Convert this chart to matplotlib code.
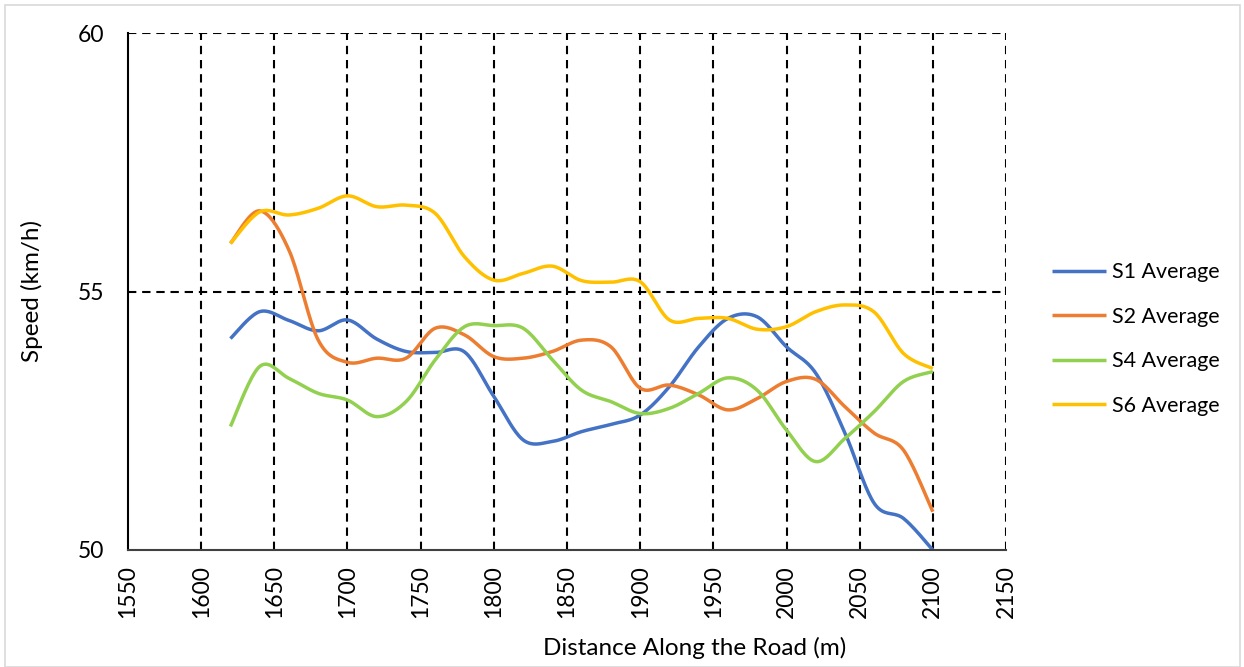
import numpy as np
import matplotlib
matplotlib.use("Agg")
import matplotlib.pyplot as plt
from matplotlib.patches import Rectangle

# data (20 m spacing)
distance = [1620, 1640, 1660, 1680, 1700, 1720, 1740, 1760, 1780, 1800, 1820, 1840, 1860,
            1880, 1900, 1920, 1940, 1960, 1980, 2000, 2020, 2040, 2060, 2080, 2100]
s1 = [54.09, 54.61, 54.44, 54.24, 54.45, 54.08, 53.84, 53.82, 53.83, 52.97, 52.13, 52.10, 52.29,
      52.43, 52.61, 53.16, 53.93, 54.48, 54.51, 53.93, 53.42, 52.26, 50.90, 50.61, 50.00]
s2 = [55.93, 56.56, 55.80, 54.06, 53.63, 53.71, 53.71, 54.29, 54.16, 53.74, 53.71, 53.84, 54.06,
      53.93, 53.13, 53.19, 53.00, 52.71, 52.93, 53.26, 53.30, 52.77, 52.26, 51.93, 50.74]
s4 = [52.39, 53.55, 53.32, 53.03, 52.90, 52.58, 52.87, 53.68, 54.32, 54.34, 54.29, 53.68, 53.09,
      52.87, 52.64, 52.74, 53.03, 53.33, 53.09, 52.32, 51.71, 52.16, 52.68, 53.26, 53.45]
s6 = [55.93, 56.54, 56.48, 56.61, 56.85, 56.64, 56.67, 56.51, 55.67, 55.22, 55.35, 55.49, 55.21,
      55.18, 55.19, 54.45, 54.48, 54.48, 54.27, 54.32, 54.61, 54.74, 54.60, 53.80, 53.51]

series = [("S1 Average", s1, "#4472C4"),
          ("S2 Average", s2, "#ED7D31"),
          ("S4 Average", s4, "#92D050"),
          ("S6 Average", s6, "#FFC000")]


def smooth(x, y, n=20):
    # Catmull-Rom style smoothing like Excel's "smoothed line"
    x = np.asarray(x, float)
    y = np.asarray(y, float)
    px = np.concatenate([[x[0]], x, [x[-1]]])
    py = np.concatenate([[y[0]], y, [y[-1]]])
    xs, ys = [], []
    t = np.linspace(0, 1, n, endpoint=False)
    for i in range(1, len(px) - 2):
        for arr, out in ((px, xs), (py, ys)):
            p0, p1, p2, p3 = arr[i - 1], arr[i], arr[i + 1], arr[i + 2]
            c1 = p1 + (p2 - p0) / 6
            c2 = p2 - (p3 - p1) / 6
            out.extend((1 - t) ** 3 * p1 + 3 * (1 - t) ** 2 * t * c1
                       + 3 * (1 - t) * t ** 2 * c2 + t ** 3 * p2)
    xs.append(x[-1])
    ys.append(y[-1])
    return np.array(xs), np.array(ys)


plt.rcParams['font.family'] = ['Lato', 'DejaVu Sans']

fig = plt.figure(figsize=(12.44, 6.67), dpi=100)
ax = fig.add_axes([128 / 1244, 1 - 550 / 667, 878 / 1244, 517 / 667])

for name, vals, col in series:
    sx, sy = smooth(distance, vals)
    ax.plot(sx, sy, color=col, linewidth=2.5, label=name, solid_capstyle='butt')

ax.set_xlim(1550, 2150)
ax.set_ylim(50, 60)
ax.set_xticks(np.arange(1550, 2151, 50))
ax.set_yticks([50, 55, 60])
ax.tick_params(axis='x', labelrotation=90, length=0, pad=11, labelsize=16.5)
ax.tick_params(axis='y', length=0, pad=17, labelsize=16.5)

for xv in np.arange(1600, 2151, 50):
    ax.axvline(xv, color='black', linestyle=(0, (4, 2.8)), linewidth=1.5, zorder=0)
for yv in [55, 60]:
    ax.axhline(yv, color='black', linestyle=(0, (4, 2.8)), linewidth=1.5, zorder=0)

ax.spines['top'].set_visible(False)
ax.spines['right'].set_visible(False)
ax.spines['left'].set_color('black')
ax.spines['left'].set_linewidth(1.5)
ax.spines['bottom'].set_color('#404040')
ax.spines['bottom'].set_linewidth(1.5)

ax.set_xlabel("Distance Along the Road (m)", fontsize=17.5)
ax.xaxis.set_label_coords(0.645, -0.168)
ax.set_ylabel("Speed (km/h)", fontsize=17.5)
ax.yaxis.set_label_coords(-0.097, 0.5)

ax.legend(loc='center left', bbox_to_anchor=(1.03, 0.408), frameon=False, fontsize=15.5,
          handlelength=2.5, labelspacing=1.14, handletextpad=0.3)

fig.patches.append(Rectangle((5 / 1244, 0), 1235 / 1244, 1 - 5 / 667, transform=fig.transFigure,
                             fill=False, edgecolor='#D9D9D9', linewidth=1.2))

fig.savefig("out.png", dpi=100)
